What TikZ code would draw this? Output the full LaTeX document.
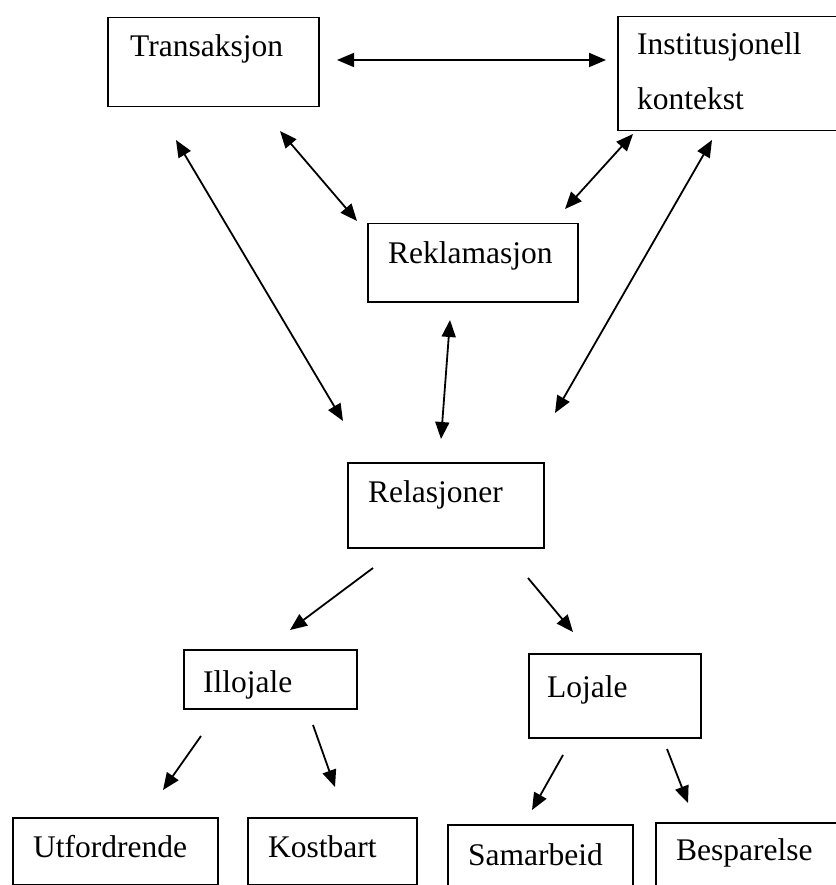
\documentclass[tikz,border=0pt]{standalone}
\usepackage{fontspec}
\setmainfont{Liberation Serif}
\usetikzlibrary{arrows.meta}
\begin{document}
\begin{tikzpicture}[x=1pt,y=-1pt,
  box/.style={draw=black, line width=1.5pt, inner sep=0pt, anchor=north west},
  lbl/.style={anchor=base west, inner sep=0pt, font=\fontsize{31.5}{37}\selectfont},
  con/.style={line width=1.8pt, -{Triangle[length=17pt,width=14pt]}},
  bicon/.style={line width=1.8pt, {Triangle[length=17pt,width=14pt]}-{Triangle[length=17pt,width=14pt]}}]
\useasboundingbox (0,0) rectangle (835,885);
\fill[white] (0,0) rectangle (835,885);
% boxes
\node[box, minimum width=211pt, minimum height=89pt] (T) at (107,17) {};
\node[box, minimum width=228pt, minimum height=114pt] (I) at (617,16) {};
\node[box, minimum width=210pt, minimum height=78pt] (R) at (367,223) {};
\node[box, minimum width=196pt, minimum height=85pt] (L) at (347,462) {};
\node[box, minimum width=173pt, minimum height=59pt] (IL) at (183,649) {};
\node[box, minimum width=172pt, minimum height=84pt] (LO) at (528,653) {};
\node[box, minimum width=205pt, minimum height=67pt] (U) at (12,817) {};
\node[box, minimum width=169pt, minimum height=67pt] (K) at (247,817) {};
\node[box, minimum width=185pt, minimum height=80pt] (S) at (447,824) {};
\node[box, minimum width=200pt, minimum height=80pt] (B) at (655,822) {};
% labels
\node[lbl] (tT) at (130,57) {Transaksjon};
\node[lbl] (tI1) at (637,55) {Institusjonell};
\node[lbl] (tI2) at (637,110) {kontekst};
\node[lbl] (tR) at (388,263) {Reklamasjon};
\node[lbl] (tL) at (368,502) {Relasjoner};
\node[lbl] (tIL) at (203,692) {Illojale};
\node[lbl] (tLO) at (547,697) {Lojale};
\node[lbl] (tU) at (33,857) {Utfordrende};
\node[lbl] (tK) at (268,857) {Kostbart};
\node[lbl] (tS) at (468,865) {Samarbeid};
\node[lbl] (tB) at (676,860) {Besparelse};
% connector end points
\coordinate (a1) at (337,60);  \coordinate (a2) at (606,60);
\coordinate (b1) at (280,131); \coordinate (b2) at (357,221);
\coordinate (c1) at (176,140); \coordinate (c2) at (343,421);
\coordinate (d1) at (633,134); \coordinate (d2) at (565,209);
\coordinate (e1) at (712,140); \coordinate (e2) at (555,413);
\coordinate (f1) at (450,320); \coordinate (f2) at (441,439);
\coordinate (g1) at (373,568); \coordinate (g2) at (290,630);
\coordinate (h1) at (528,578); \coordinate (h2) at (573,632);
\coordinate (i1) at (201,736); \coordinate (i2) at (163,790);
\coordinate (j1) at (313,725); \coordinate (j2) at (335,787);
\coordinate (k1) at (563,755); \coordinate (k2) at (532,810);
\coordinate (l1) at (667,749); \coordinate (l2) at (688,803);
% connectors
\draw[bicon] (a1) -- (a2);
\draw[bicon] (b1) -- (b2);
\draw[bicon] (c1) -- (c2);
\draw[bicon] (d1) -- (d2);
\draw[bicon] (e1) -- (e2);
\draw[bicon] (f1) -- (f2);
\draw[con] (g1) -- (g2);
\draw[con] (h1) -- (h2);
\draw[con] (i1) -- (i2);
\draw[con] (j1) -- (j2);
\draw[con] (k1) -- (k2);
\draw[con] (l1) -- (l2);
\end{tikzpicture}
\end{document}
